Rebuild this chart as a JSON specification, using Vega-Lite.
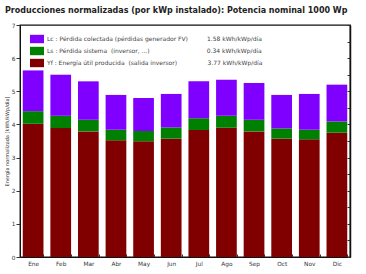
{
  "$schema": "https://vega.github.io/schema/vega-lite/v6.json",
  "width": 330,
  "height": 232,
  "autosize": {"type": "none"},
  "padding": {"left": 20, "top": 25, "right": 16, "bottom": 17},
  "background": "white",
  "config": {
    "view": {"stroke": "#111", "strokeWidth": 1.3},
    "font": "DejaVu Sans"
  },
  "title": {
    "text": "Producciones normalizadas (por kWp instalado):  Potencia nominal 1000 Wp",
    "anchor": "start",
    "frame": "group",
    "dx": -15,
    "offset": 7,
    "font": "DejaVu Sans",
    "fontSize": 8,
    "fontWeight": "bold",
    "color": "#222"
  },
  "data": {
    "values": [
      {"mes": "Ene", "comp": "Yf", "value": 4.02}, {"mes": "Ene", "comp": "Ls", "value": 0.38}, {"mes": "Ene", "comp": "Lc", "value": 1.23},
      {"mes": "Feb", "comp": "Yf", "value": 3.89}, {"mes": "Feb", "comp": "Ls", "value": 0.37}, {"mes": "Feb", "comp": "Lc", "value": 1.24},
      {"mes": "Mar", "comp": "Yf", "value": 3.79}, {"mes": "Mar", "comp": "Ls", "value": 0.35}, {"mes": "Mar", "comp": "Lc", "value": 1.16},
      {"mes": "Abr", "comp": "Yf", "value": 3.52}, {"mes": "Abr", "comp": "Ls", "value": 0.32}, {"mes": "Abr", "comp": "Lc", "value": 1.05},
      {"mes": "May", "comp": "Yf", "value": 3.49}, {"mes": "May", "comp": "Ls", "value": 0.31}, {"mes": "May", "comp": "Lc", "value": 1.00},
      {"mes": "Jun", "comp": "Yf", "value": 3.57}, {"mes": "Jun", "comp": "Ls", "value": 0.34}, {"mes": "Jun", "comp": "Lc", "value": 1.01},
      {"mes": "Jul", "comp": "Yf", "value": 3.83}, {"mes": "Jul", "comp": "Ls", "value": 0.36}, {"mes": "Jul", "comp": "Lc", "value": 1.11},
      {"mes": "Ago", "comp": "Yf", "value": 3.90}, {"mes": "Ago", "comp": "Ls", "value": 0.36}, {"mes": "Ago", "comp": "Lc", "value": 1.09},
      {"mes": "Sep", "comp": "Yf", "value": 3.79}, {"mes": "Sep", "comp": "Ls", "value": 0.35}, {"mes": "Sep", "comp": "Lc", "value": 1.11},
      {"mes": "Oct", "comp": "Yf", "value": 3.57}, {"mes": "Oct", "comp": "Ls", "value": 0.31}, {"mes": "Oct", "comp": "Lc", "value": 1.01},
      {"mes": "Nov", "comp": "Yf", "value": 3.55}, {"mes": "Nov", "comp": "Ls", "value": 0.29}, {"mes": "Nov", "comp": "Lc", "value": 1.08},
      {"mes": "Dic", "comp": "Yf", "value": 3.75}, {"mes": "Dic", "comp": "Ls", "value": 0.34}, {"mes": "Dic", "comp": "Lc", "value": 1.11}
    ]
  },
  "layer": [
    {
      "mark": {"type": "bar"},
      "encoding": {
        "x": {
          "field": "mes", "type": "nominal",
          "sort": ["Ene","Feb","Mar","Abr","May","Jun","Jul","Ago","Sep","Oct","Nov","Dic"],
          "scale": {"paddingInner": 0.25, "paddingOuter": 0.1},
          "axis": {
            "title": null, "labelAngle": 0, "labelFontSize": 5.8, "labelColor": "#333",
            "domainColor": "#111", "tickColor": "#333", "tickBand": "extent", "tickSize": -3,
            "labelPadding": 6
          }
        },
        "y": {
          "field": "value", "type": "quantitative", "stack": "zero",
          "scale": {"domain": [0, 7], "nice": false},
          "axis": {
            "title": "Energía normalizada [kWh/kWp/día]", "titleFontSize": 5, "titleFontWeight": "normal",
            "titleColor": "#333", "titlePadding": 1.5,
            "values": [0,1,2,3,4,5,6,7], "grid": false, "labelFontSize": 5.8, "labelColor": "#333",
            "tickSize": 4, "labelPadding": 1, "domainColor": "#111", "tickColor": "#333"
          }
        },
        "color": {
          "field": "comp", "type": "nominal",
          "scale": {"domain": ["Lc","Ls","Yf"], "range": ["#8000FF","#008000","#800000"]},
          "legend": {
            "title": null, "orient": "none", "legendX": 10, "legendY": 7,
            "symbolType": "M-1,-0.6H1V0.6H-1Z", "symbolSize": 196, "symbolStrokeWidth": 0,
            "rowPadding": -5.5, "labelFont": "DejaVu Sans", "labelFontSize": 6, "labelColor": "#444", "labelOffset": 3, "labelLimit": 400,
            "labelExpr": "datum.label == 'Lc' ? 'Lc : Pérdida colectada (pérdidas generador FV)\u00a0\u00a0\u00a0\u00a0\u00a0\u00a0\u00a0\u00a0\u00a0\u00a01.58 kWh/kWp/día' : datum.label == 'Ls' ? 'Ls : Pérdida sistema\u00a0\u00a0(inversor, ...)\u00a0\u00a0\u00a0\u00a0\u00a0\u00a0\u00a0\u00a0\u00a0\u00a0\u00a0\u00a0\u00a0\u00a0\u00a0\u00a0\u00a0\u00a0\u00a0\u00a0\u00a0\u00a0\u00a0\u00a0\u00a0\u00a0\u00a0\u00a0\u00a0\u00a00.34 kWh/kWp/día' : 'Yf : Energía útil producida\u00a0\u00a0(salida inversor)\u00a0\u00a0\u00a0\u00a0\u00a0\u00a0\u00a0\u00a0\u00a0\u00a0\u00a0\u00a0\u00a0\u00a0\u00a0\u00a03.77 kWh/kWp/día'"
          }
        },
        "order": {"field": "comp", "sort": "descending"}
      }
    },
    {
      "mark": {"type": "rule", "opacity": 0},
      "encoding": {
        "y": {
          "field": "value", "type": "quantitative",
          "scale": {"domain": [0, 7], "nice": false},
          "axis": {
            "orient": "right", "title": null, "labels": false, "grid": false,
            "values": [0,0.5,1,1.5,2,2.5,3,3.5,4,4.5,5,5.5,6,6.5,7],
            "tickSize": -3, "tickColor": "#333", "domainColor": "#111", "domainWidth": 1.5
          }
        }
      }
    }
  ],
  "resolve": {"axis": {"y": "independent"}}
}
